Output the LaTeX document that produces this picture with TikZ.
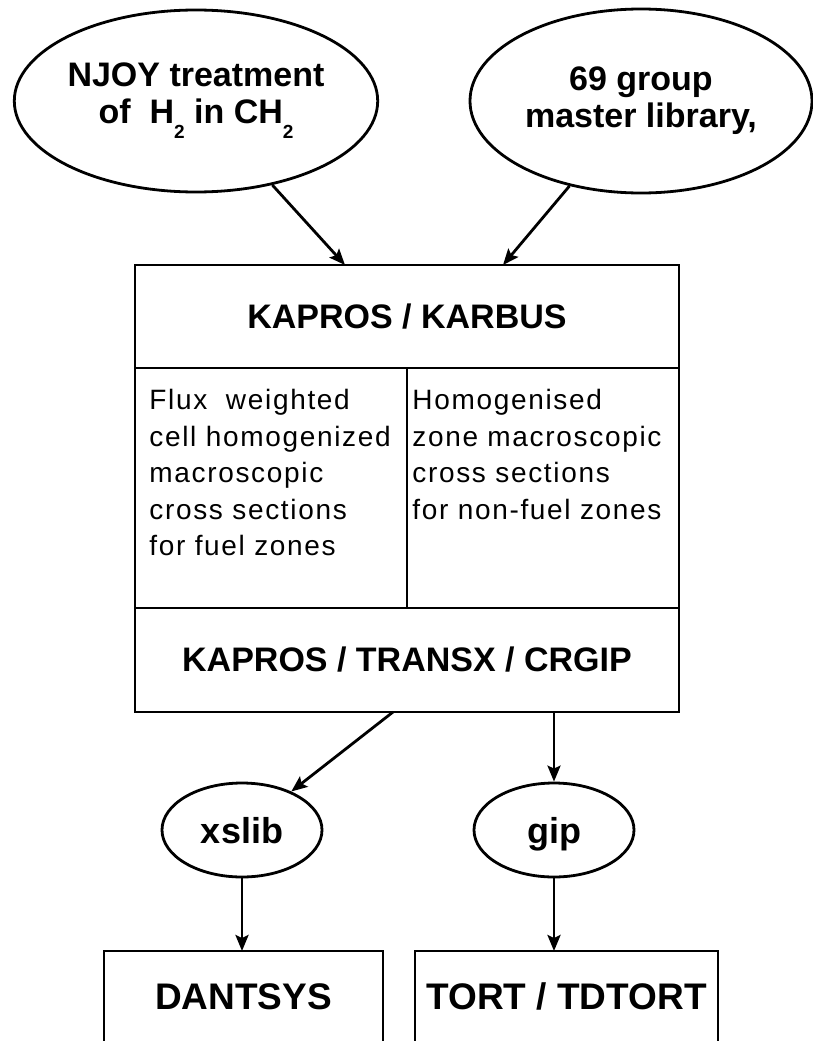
\documentclass[tikz,border=0pt]{standalone}
\usepackage{fontspec}
\setmainfont{Liberation Sans}
\newfontfamily\colfont[LetterSpace=6]{Liberation Sans}
\usetikzlibrary{shapes.geometric,arrows.meta}
\newcommand{\lowsub}[1]{\raisebox{-15pt}{\fontsize{19}{19}\selectfont #1}}

\begin{document}
\begin{tikzpicture}[
		x={(1pt,0pt)},
		y={(0pt,-1pt)},
		line width=2.8pt,
		>={Stealth[length=16pt,width=13pt,inset=3pt]},
		ellnode/.style={draw, ellipse, inner sep=0pt, align=center, font=\fontsize{34}{37}\selectfont\bfseries},
		rownode/.style={draw, rectangle, inner sep=0pt, outer sep=0pt, minimum width=544pt, font=\fontsize{34}{40}\selectfont\bfseries},
		coltext/.style={anchor=north west, inner sep=0pt, text width=265pt, align=left, font=\colfont\fontsize{28}{36.5}\selectfont},
		outbox/.style={draw, rectangle, inner sep=0pt, outer sep=0pt, minimum height=91pt, font=\fontsize{37}{40}\selectfont\bfseries}
	]

		\useasboundingbox (0,0) rectangle (813,1041);

		% Input data
		\node[ellnode, minimum width=362pt, minimum height=182pt] (njoy) at (196,101) {NJOY treatment\\of\ \ H\lowsub{2} in CH\lowsub{2}};
		\node[ellnode, minimum width=342pt, minimum height=184pt] (master) at (641,101) {69 group\\master library,};

		% Main code block
		\node[rownode, minimum height=103pt] (karbus) at (407,316.5) {KAPROS / KARBUS};
		\node[rownode, minimum height=104pt] (transx) at (407,660) {KAPROS / TRANSX / CRGIP};
		\draw (karbus.south west) rectangle (transx.north east);
		\draw (karbus.south) -- (transx.north);

		\node[coltext] (fuel) at (148,388) {Flux\ \ weighted\\cell homogenized\\macroscopic\\cross sections\\for fuel zones};
		\node[coltext] (nonfuel) at (411,388) {Homogenised\\zone macroscopic\\cross sections\\for non-fuel zones};

		% Output files and transport codes
		\node[ellnode, minimum width=160pt, minimum height=94pt, text height=26pt, text depth=0pt, font=\fontsize{36}{40}\selectfont\bfseries] (xslib) at (242,830) {xslib};
		\node[ellnode, minimum width=160pt, minimum height=94pt, text height=26pt, text depth=0pt, font=\fontsize{36}{40}\selectfont\bfseries] (gip) at (554,830) {gip};

		\node[outbox, minimum width=279pt] (dantsys) at (243.5,996.5) {DANTSYS};
		\node[outbox, minimum width=303pt] (tort) at (566.5,996.5) {TORT / TDTORT};

		\coordinate (in1) at (345,265);
		\coordinate (in2) at (503,265);
		\coordinate (out1) at (393,712);

		\draw[->] (njoy) -- (in1);
		\draw[->] (master) -- (in2);
		\draw[->] (out1) -- (xslib);
		\draw[->] (gip.north |- transx.south) -- (gip);
		\draw[->] (xslib) -- (xslib |- dantsys.north);
		\draw[->] (gip) -- (gip |- tort.north);
	\end{tikzpicture}
\end{document}
